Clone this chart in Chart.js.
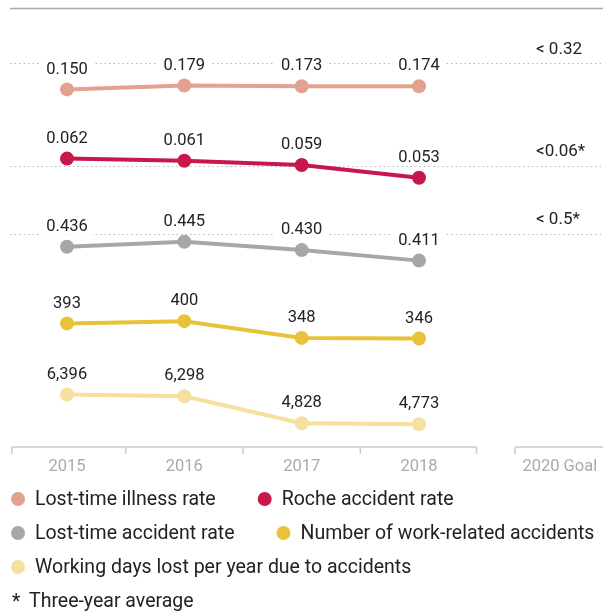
<!DOCTYPE html>
<html><head><meta charset="utf-8">
<script src="https://cdn.jsdelivr.net/npm/chart.js@4.4.0/dist/chart.umd.min.js"></script>
<style>html,body{margin:0;padding:0;background:#fff;overflow:hidden}</style>
</head><body>
<canvas id="c" width="603" height="613"></canvas>
<script>
// ---- data ----
const years = ['2015', '2016', '2017', '2018'];
const goalColumnLabel = '2020 Goal';
const seriesNames = [
  'Lost-time illness rate',
  'Roche accident rate',
  'Lost-time accident rate',
  'Number of work-related accidents',
  'Working days lost per year due to accidents'
];
const illnessRate = [0.150, 0.179, 0.173, 0.174];
const rocheRate = [0.062, 0.061, 0.059, 0.053];
const lostTimeRate = [0.436, 0.445, 0.430, 0.411];
const workAccidents = [393, 400, 348, 346];
const daysLost = [6396, 6298, 4828, 4773];
const goalTexts = ['< 0.32', '<0.06*', '< 0.5*'];
const footnoteMark = '*';
const footnoteText = 'Three-year average';

// ---- styling ----
const FONT = 'Roboto, "Liberation Sans", sans-serif';
const colors = ['#E2A28F', '#C8174A', '#A7A7A9', '#E8C33A', '#F5E09F'];
const seriesValues = [illnessRate, rocheRate, lostTimeRate, workAccidents, daysLost];
const decimals = [3, 3, 3, 0, 0];
const axisRanges = [
  [-2.5086, 0.8148],
  [-0.07354, 0.13652],
  [0.07396, 0.88228],
  [9.16, 1397.4],
  [3535, 27881]
];

const datasets = seriesValues.map((vals, i) => ({
  label: seriesNames[i],
  data: years.map((y, j) => ({x: Number(y), y: vals[j]})),
  yAxisID: 'y' + i,
  borderColor: colors[i],
  backgroundColor: colors[i],
  pointBackgroundColor: colors[i],
  pointBorderWidth: 0,
  pointRadius: 7,
  pointHoverRadius: 7,
  borderWidth: 4,
  tension: 0,
  clip: false,
  decimals: decimals[i]
}));

const scales = {
  x: {type: 'linear', display: false, min: 2014.429, max: 2019.568}
};
axisRanges.forEach((r, i) => {
  scales['y' + i] = {type: 'linear', display: false, min: r[0], max: r[1]};
});

function fmt(v, d) {
  return d > 0 ? v.toFixed(d) : v.toLocaleString('en-US');
}

const decor = {
  id: 'decor',
  beforeDatasetsDraw(chart, args, opts) {
    const ctx = chart.ctx;
    const xs = chart.scales.x;
    const B = chart.chartArea.bottom;
    ctx.save();
    // top rule
    ctx.strokeStyle = '#ABABAB';
    ctx.lineWidth = 1.5;
    ctx.beginPath(); ctx.moveTo(10, 8.5); ctx.lineTo(603, 8.5); ctx.stroke();
    // dotted reference lines
    ctx.strokeStyle = '#B8B8B8';
    ctx.lineWidth = 1.2;
    ctx.setLineDash([1.5, 3]);
    opts.goalLineY.forEach(y => {
      ctx.beginPath(); ctx.moveTo(10, y); ctx.lineTo(603, y); ctx.stroke();
    });
    ctx.setLineDash([]);
    // goal texts
    ctx.fillStyle = '#222';
    ctx.font = '17px ' + FONT;
    ctx.textAlign = 'left';
    ctx.textBaseline = 'middle';
    goalTexts.forEach((t, i) => ctx.fillText(t, opts.goalTextX, opts.goalTextY[i]));
    // bottom axis
    const first = Number(years[0]), last = Number(years[years.length - 1]);
    const left = xs.getPixelForValue(first - 0.47);
    const right = xs.getPixelForValue(last + 0.49);
    ctx.strokeStyle = '#CCCCCC';
    ctx.lineWidth = 1.5;
    ctx.beginPath();
    ctx.moveTo(left, B); ctx.lineTo(right, B);
    const gl = xs.getPixelForValue(opts.goalStart);
    ctx.moveTo(gl, B); ctx.lineTo(603, B);
    const ticks = [left];
    for (let v = first + 0.5; v < last; v += 1) ticks.push(xs.getPixelForValue(v));
    ticks.push(right);
    ticks.push(gl);
    ticks.forEach(px => { ctx.moveTo(px, B); ctx.lineTo(px, B + 7); });
    ctx.stroke();
    // axis labels
    ctx.fillStyle = '#AAAAAA';
    ctx.font = '16.5px ' + FONT;
    ctx.textAlign = 'center';
    years.forEach(y => ctx.fillText(y, xs.getPixelForValue(Number(y)), B + 20));
    ctx.fillText(goalColumnLabel, xs.getPixelForValue(opts.goalCenter), B + 20);
    ctx.restore();
  },
  afterDatasetsDraw(chart, args, opts) {
    const ctx = chart.ctx;
    ctx.save();
    ctx.font = '16.5px ' + FONT;
    ctx.textAlign = 'center';
    ctx.textBaseline = 'middle';
    chart.data.datasets.forEach((ds, i) => {
      const meta = chart.getDatasetMeta(i);
      meta.data.forEach((pt, j) => {
        const t = fmt(ds.data[j].y, ds.decimals);
        const w = ctx.measureText(t).width;
        const cy = pt.y - 21;
        ctx.fillStyle = '#fff';
        ctx.fillRect(pt.x - w / 2 - 6, cy - 9, w + 12, 18);
        ctx.fillStyle = '#222';
        ctx.fillText(t, pt.x, cy + 1);
      });
    });
    // legend
    ctx.font = '19.5px ' + FONT;
    ctx.textAlign = 'left';
    let x = 11, row = 0;
    const rowY = opts.legendTop, rowH = opts.legendRowH;
    chart.data.datasets.forEach((ds, i) => {
      const tw = ctx.measureText(ds.label).width;
      const itemW = 24 + tw;
      if (x > 11 && x + itemW > 602) { x = 11; row++; }
      const cy = rowY + row * rowH;
      ctx.fillStyle = ds.borderColor;
      ctx.beginPath(); ctx.arc(x + 7, cy, 7, 0, Math.PI * 2); ctx.fill();
      ctx.fillStyle = '#222';
      ctx.fillText(ds.label, x + 24, cy + 1);
      x += itemW + 42;
    });
    const fy = rowY + (row + 1) * rowH;
    ctx.fillText(footnoteMark, 12, fy + 2);
    ctx.fillText(footnoteText, 29, fy + 1);
    ctx.restore();
  }
};

new Chart(document.getElementById('c'), {
  type: 'line',
  data: {datasets},
  options: {
    responsive: false,
    animation: false,
    devicePixelRatio: 1,
    layout: {autoPadding: false, padding: {left: 0, right: 0, top: 0, bottom: 166}},
    scales,
    plugins: {
      legend: {display: false},
      tooltip: {enabled: false},
      decor: {
        goalLineY: [63.5, 166.5, 234.5],
        goalTextX: 536,
        goalTextY: [50, 152, 220],
        goalStart: 2018.818,
        goalCenter: 2019.2,
        legendTop: 499,
        legendRowH: 34
      }
    }
  },
  plugins: [decor]
});
</script>
</body></html>
